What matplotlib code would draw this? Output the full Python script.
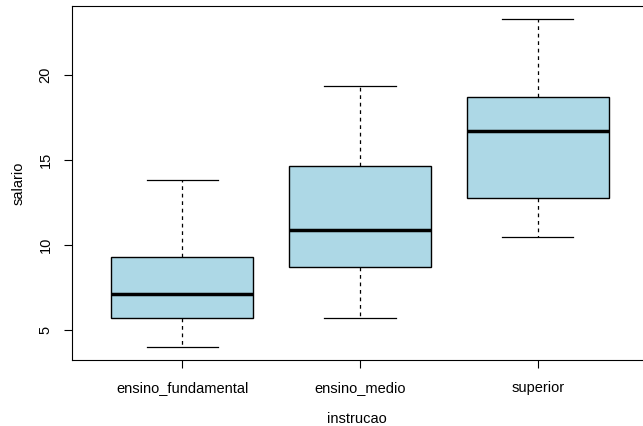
import matplotlib.pyplot as plt

plt.rcParams['font.family'] = ['Liberation Sans', 'DejaVu Sans']

# valores
categorias = ['ensino_fundamental', 'ensino_medio', 'superior']
minimo = [4.0, 5.71, 10.47]
q1 = [5.72, 8.71, 12.78]
mediana = [7.12, 10.88, 16.72]
q3 = [9.32, 14.67, 18.73]
maximo = [13.84, 19.38, 23.3]

stats = []
for i in range(len(categorias)):
    stats.append({'label': categorias[i], 'whislo': minimo[i], 'q1': q1[i],
                  'med': mediana[i], 'q3': q3[i], 'whishi': maximo[i]})

fig = plt.figure(figsize=(6.43, 4.26), dpi=100)
ax = fig.add_axes([72/643, 66/426, 576/643, 354/426])

ax.bxp(stats, positions=[1, 2, 3], widths=0.8, showfliers=False,
       patch_artist=True,
       boxprops=dict(facecolor='#ADD8E6', edgecolor='black', linewidth=1),
       medianprops=dict(color='black', linewidth=2.5),
       whiskerprops=dict(color='black', linewidth=0.9, linestyle=(0, (3, 3))),
       capprops=dict(color='black', linewidth=0.9), capwidths=0.4)

ax.set_xlim(0.38, 3.62)
ax.set_ylim(3.23, 24.07)
ax.set_yticks([5, 10, 15, 20])
ax.set_yticklabels(['5', '10', '15', '20'], rotation=90, va='center')
ax.tick_params(axis='both', length=6, width=0.8, labelsize=10.5, colors='black')
ax.tick_params(axis='x', pad=9)
ax.tick_params(axis='y', pad=8)
for s in ax.spines.values():
    s.set_linewidth(0.8)

ax.set_xlabel('instrucao', fontsize=10.5, labelpad=12.5)
ax.set_ylabel('salario', fontsize=10.5, labelpad=9)
ax.xaxis.label.set_position((285 / 576, 0))

fig.savefig('out.png', dpi=100)
